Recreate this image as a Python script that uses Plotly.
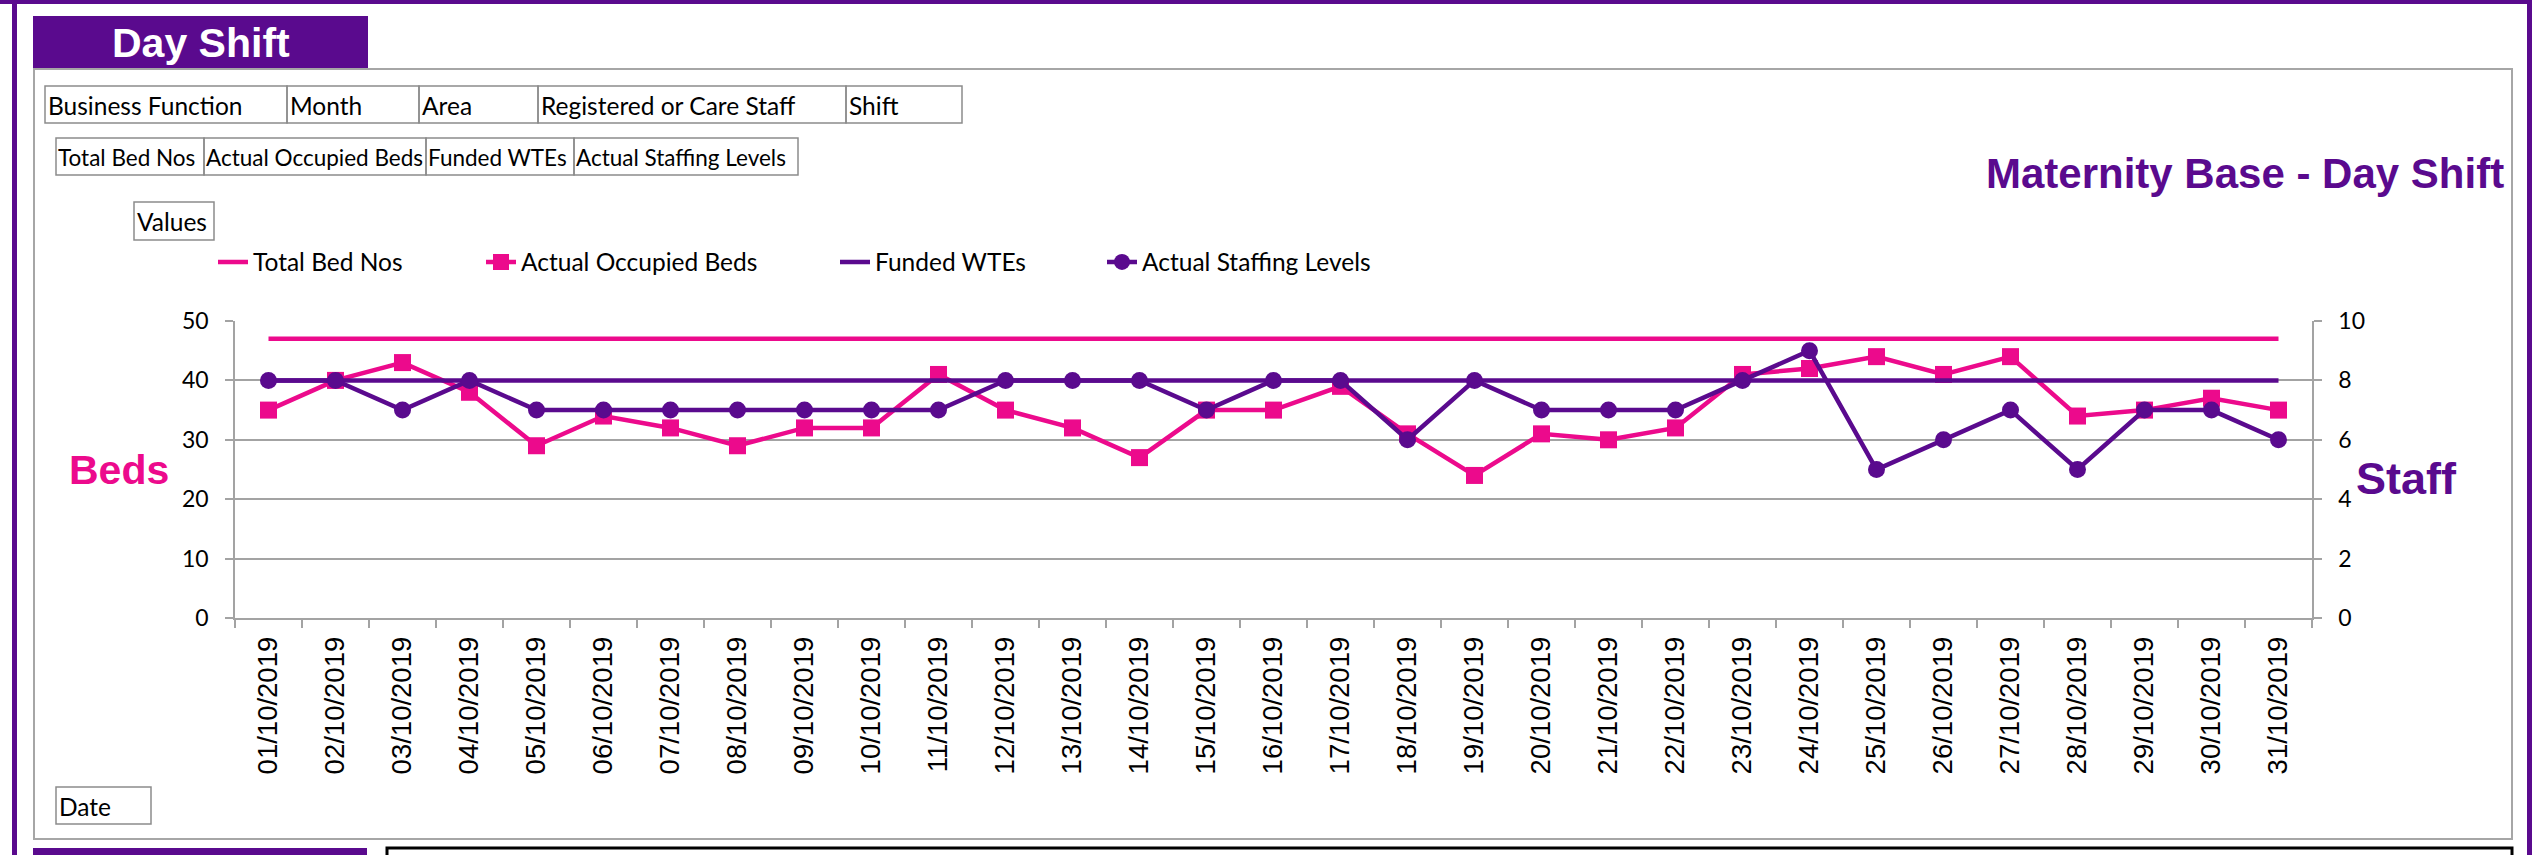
import plotly.graph_objects as go

# ---------------- data ----------------
dates = ["01/10/2019", "02/10/2019", "03/10/2019", "04/10/2019", "05/10/2019", "06/10/2019",
         "07/10/2019", "08/10/2019", "09/10/2019", "10/10/2019", "11/10/2019", "12/10/2019",
         "13/10/2019", "14/10/2019", "15/10/2019", "16/10/2019", "17/10/2019", "18/10/2019",
         "19/10/2019", "20/10/2019", "21/10/2019", "22/10/2019", "23/10/2019", "24/10/2019",
         "25/10/2019", "26/10/2019", "27/10/2019", "28/10/2019", "29/10/2019", "30/10/2019",
         "31/10/2019"]
total_bed_nos = [47, 47, 47, 47, 47, 47, 47, 47, 47, 47, 47, 47, 47, 47, 47, 47,
                 47, 47, 47, 47, 47, 47, 47, 47, 47, 47, 47, 47, 47, 47, 47]
actual_occupied_beds = [35, 40, 43, 38, 29, 34, 32, 29, 32, 32, 41, 35, 32, 27, 35, 35,
                        39, 31, 24, 31, 30, 32, 41, 42, 44, 41, 44, 34, 35, 37, 35]
funded_wtes = [8, 8, 8, 8, 8, 8, 8, 8, 8, 8, 8, 8, 8, 8, 8, 8,
               8, 8, 8, 8, 8, 8, 8, 8, 8, 8, 8, 8, 8, 8, 8]
actual_staffing_levels = [8, 8, 7, 8, 7, 7, 7, 7, 7, 7, 7, 8, 8, 8, 7, 8,
                          8, 6, 8, 7, 7, 7, 8, 9, 5, 6, 7, 5, 7, 7, 6]
series_names = ["Total Bed Nos", "Actual Occupied Beds", "Funded WTEs", "Actual Staffing Levels"]
bed_ticks = [0, 10, 20, 30, 40, 50]
staff_ticks = [0, 2, 4, 6, 8, 10]
filter_fields = ["Business Function", "Month", "Area", "Registered or Care Staff", "Shift"]

# ---------------- style ----------------
PINK = "#EC0A8C"
PURPLE = "#5A0A8E"
GRID = "#a3a3a3"
CAL = "Lato, 'Open Sans', sans-serif"
ARIAL = "'Liberation Sans', Arial, sans-serif"

W, H = 2532, 855
L, R, T, B = 235, 2312, 321, 618


def px(x):
    return (x - L) / (R - L)


def py(y):
    return (B - y) / (B - T)


fig = go.Figure()
fig.add_trace(go.Scatter(x=dates, y=total_bed_nos, name=series_names[0], mode="lines",
                         line=dict(color=PINK, width=4.5), legend="legend"))
fig.add_trace(go.Scatter(x=dates, y=actual_occupied_beds, name=series_names[1], mode="lines+markers",
                         line=dict(color=PINK, width=4.5),
                         marker=dict(symbol="square", size=17, color=PINK), legend="legend2"))
fig.add_trace(go.Scatter(x=dates, y=funded_wtes, name=series_names[2], mode="lines", yaxis="y2",
                         line=dict(color=PURPLE, width=4.5), legend="legend3"))
fig.add_trace(go.Scatter(x=dates, y=actual_staffing_levels, name=series_names[3], mode="lines+markers",
                         yaxis="y2", line=dict(color=PURPLE, width=4.5),
                         marker=dict(symbol="circle", size=17, color=PURPLE), legend="legend4"))

shapes = []
annotations = []


def rect(x0, y0, x1, y1, line_color=None, line_width=0, fill=None, layer="above"):
    shapes.append(dict(type="rect", xref="paper", yref="paper",
                       x0=px(x0), x1=px(x1), y0=py(y1), y1=py(y0),
                       line=dict(color=line_color or "rgba(0,0,0,0)", width=line_width),
                       fillcolor=fill or "rgba(0,0,0,0)", layer=layer))


def text(x, y, s, size, color="black", family=CAL, bold=False, xanchor="left", yanchor="middle"):
    annotations.append(dict(xref="paper", yref="paper", x=px(x), y=py(y), text=("<b>%s</b>" % s) if bold else s,
                            showarrow=False, xanchor=xanchor, yanchor=yanchor,
                            font=dict(size=size, color=color, family=family)))


# outer purple border
rect(0, 0, W, 4, fill=PURPLE)
rect(12, 0, 17, H, fill=PURPLE)
rect(2527, 0, W, H, fill=PURPLE)
# grey chart frame
rect(34, 69, 2512, 839, line_color="#a6a6a6", line_width=2, layer="below")
# header box
rect(33, 16, 368, 68, fill=PURPLE)
text(201, 43, "Day Shift", 41, color="white", family=ARIAL, bold=True, xanchor="center")
# bottom boxes
rect(33, 848, 367, 870, fill=PURPLE)
rect(387, 848, 2512, 870, line_color="black", line_width=3, fill="white")

# filter field buttons
row1 = [(45, 287), (287, 419), (419, 538), (538, 846), (846, 962)]
for (a, b), s in zip(row1, filter_fields):
    rect(a, 86, b, 123, line_color="#8c8c8c", line_width=1.5)
    text(a + 1, 105, s, 24.5)
row2 = [(56, 204), (204, 426), (426, 574), (574, 798)]
for (a, b), s in zip(row2, series_names):
    rect(a, 138, b, 175, line_color="#8c8c8c", line_width=1.5)
    text(a, 157, s, 22.5)
rect(134, 202, 214, 240, line_color="#8c8c8c", line_width=1.5)
text(135, 221, "Values", 24.5)
rect(56, 787, 151, 824, line_color="#8c8c8c", line_width=1.5)
text(57, 806, "Date", 24.5)

# titles
text(2506, 173, "Maternity Base - Day Shift", 42, color=PURPLE, family=ARIAL, bold=True, xanchor="right")
text(119, 470, "Beds", 41, color=PINK, family=ARIAL, bold=True, xanchor="center")
text(2406, 478, "Staff", 45, color=PURPLE, family=ARIAL, bold=True, xanchor="center")

axis_common = dict(showline=True, linecolor=GRID, linewidth=1.5, ticks="outside", ticklen=8,
                   tickcolor=GRID, tickwidth=1.5, zeroline=False, fixedrange=True, automargin=False)

legend_text_starts = [258, 526, 880, 1147]
legend_cfg = {}
for i, xs in enumerate(legend_text_starts):
    key = "legend" if i == 0 else "legend%d" % (i + 1)
    legend_cfg[key] = dict(x=px(xs - 45), xanchor="left", y=py(262), yanchor="middle",
                           orientation="h", bgcolor="rgba(0,0,0,0)", borderwidth=0,
                           font=dict(family=CAL, size=24.5, color="black"))

fig.update_layout(
    width=W, height=H,
    margin=dict(l=L, r=W - R, t=T, b=H - B, pad=0, autoexpand=False),
    paper_bgcolor="white", plot_bgcolor="white",
    showlegend=True,
    xaxis=dict(type="category", range=[-0.5, 30.5], tickangle=-90, tickson="boundaries",
               showgrid=False, tickfont=dict(family=ARIAL, size=27.5, color="black"),
               ticklabelstandoff=6, **axis_common),
    yaxis=dict(range=[0, 50], tickvals=bed_ticks, showgrid=True, gridcolor=GRID, gridwidth=1.5,
               tickfont=dict(family=CAL, size=23, color="black"), ticklabelstandoff=12, **axis_common),
    yaxis2=dict(range=[0, 10], tickvals=staff_ticks, overlaying="y", side="right", showgrid=False,
                tickfont=dict(family=CAL, size=23, color="black"), ticklabelstandoff=12, **axis_common),
    shapes=shapes,
    annotations=annotations,
    **legend_cfg,
)

fig.write_html("out.html", config={"displayModeBar": False},
               post_script="document.body.style.margin='0';document.body.style.overflow='hidden';")
